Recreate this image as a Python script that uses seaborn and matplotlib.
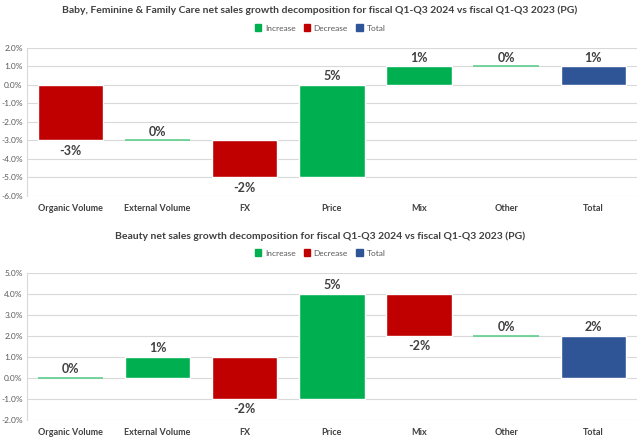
import matplotlib
matplotlib.use('Agg')
import matplotlib.pyplot as plt
from matplotlib.patches import Patch
from matplotlib.ticker import FuncFormatter, MultipleLocator
import numpy as np
import pandas as pd
import seaborn as sns

# ─────────────────────────────────────────────
# Data
# ─────────────────────────────────────────────

categories = ['Organic Volume', 'External Volume', 'FX', 'Price', 'Mix', 'Other', 'Total']

baby_title = 'Baby, Feminine & Family Care net sales growth decomposition for fiscal Q1-Q3 2024 vs fiscal Q1-Q3 2023 (PG)'
baby_steps = [-3, 0, -2, 5, 1, 0]

beauty_title = 'Beauty net sales growth decomposition for fiscal Q1-Q3 2024 vs fiscal Q1-Q3 2023 (PG)'
beauty_steps = [0, 1, -2, 5, -2, 0]

baby_ylim = (-6, 2)
beauty_ylim = (-2, 5)

GREEN = '#00B050'
RED = '#C00000'
BLUE = '#2F5597'
ZERO = '#5FCF8E'
GRID = '#D9D9D9'
TXT = '#404040'
TICK = '#595959'
KINDS = ['Increase', 'Decrease', 'Total']
PALETTE = {'Increase': GREEN, 'Decrease': RED, 'Total': BLUE}

sns.set_theme(style='white')
plt.rcParams['font.family'] = ['Lato', 'DejaVu Sans']


def waterfall_frame(steps):
    ends = np.cumsum(steps)
    starts = ends - np.array(steps)
    df = pd.DataFrame({
        'category': categories,
        'change': list(steps) + [ends[-1]],
        'bottom': list(starts) + [0],
    })
    df['kind'] = ['Increase' if v >= 0 else 'Decrease' for v in steps] + ['Total']
    return df


def draw_panel(ax, steps, title, ylim, title_y, legend_y, fig):
    df = waterfall_frame(steps)
    # one seaborn call per bar kind so the floating bottoms line up
    for kind in KINDS:
        sub = df[df['kind'] == kind]
        sns.barplot(data=sub, x='category', y='change', order=categories,
                    color=PALETTE[kind], bottom=sub['bottom'].values, width=0.75,
                    saturation=1, ax=ax, zorder=3)

    # zero-size steps drawn as a thin line
    for bar in ax.patches:
        if bar.get_height() == 0:
            bar.set_edgecolor(ZERO)
            bar.set_linewidth(1.2)

    # value labels
    for i, row in df.iterrows():
        top = row['bottom'] + row['change']
        if row['change'] >= 0:
            ax.annotate(f"{row['change']:.0f}%", (i, top), xytext=(0, 2),
                        textcoords='offset points', ha='center', va='bottom',
                        fontsize=9, fontweight='bold', color=TXT)
        else:
            ax.annotate(f"{row['change']:.0f}%", (i, top), xytext=(0, -3),
                        textcoords='offset points', ha='center', va='top',
                        fontsize=9, fontweight='bold', color=TXT)

    ax.set_ylim(*ylim)
    ax.set_xlim(-0.5, len(categories) - 0.5)
    ax.yaxis.set_major_locator(MultipleLocator(1))
    ax.yaxis.set_major_formatter(FuncFormatter(lambda v, p: f'{v:.1f}%'))
    ax.grid(axis='y', color=GRID, linewidth=0.8, zorder=0)
    ax.set_axisbelow(True)
    ax.set_xlabel('')
    ax.set_ylabel('')
    for s in ['top', 'right', 'bottom']:
        ax.spines[s].set_visible(False)
    ax.spines['left'].set_color(GRID)
    ax.spines['left'].set_linewidth(0.8)
    ax.tick_params(axis='y', labelsize=6, labelcolor=TICK, length=0, pad=3)
    ax.tick_params(axis='x', labelsize=6.5, labelcolor=TXT, length=0, pad=6)
    for lbl in ax.get_xticklabels():
        lbl.set_fontweight('bold')

    fig.text(0.5, title_y, title, ha='center', va='center', fontsize=7.5,
             fontweight='bold', color=TXT)
    handles = [Patch(color=PALETTE[k], label=k) for k in KINDS]
    fig.legend(handles=handles, loc='center', bbox_to_anchor=(0.5, legend_y), ncol=3,
               frameon=False, fontsize=6, handlelength=0.8, handleheight=0.8,
               handletextpad=0.4, columnspacing=1.0, labelcolor=TICK)


fig = plt.figure(figsize=(6.4, 4.42), dpi=100)
ax1 = fig.add_axes([0.042, 0.5566, 0.953, 0.335])
ax2 = fig.add_axes([0.042, 0.0498, 0.953, 0.333])

draw_panel(ax1, baby_steps, baby_title, baby_ylim, 1 - 10 / 442, 1 - 28 / 442, fig)
draw_panel(ax2, beauty_steps, beauty_title, beauty_ylim, 1 - 236 / 442, 1 - 253 / 442, fig)

fig.savefig('out.png', dpi=100, facecolor='white')
